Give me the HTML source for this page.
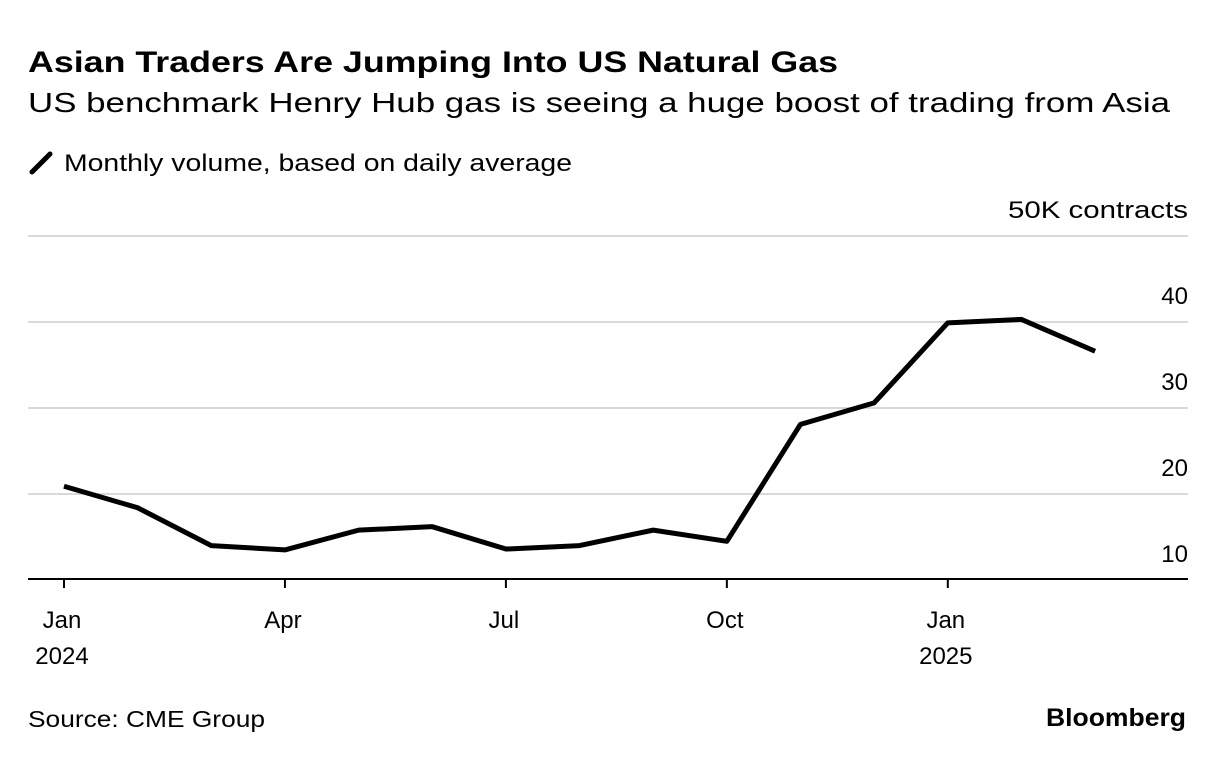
<!DOCTYPE html>
<html><head><meta charset="utf-8"><style>
body{margin:0;width:1223px;height:760px;background:#fff;font-family:"Liberation Sans",sans-serif;color:#000;overflow:hidden}
</style></head><body>
<svg width="1223" height="760">
<text x="28" y="72" font-size="30" font-weight="bold" textLength="810" lengthAdjust="spacingAndGlyphs">Asian Traders Are Jumping Into US Natural Gas</text>
<text x="28" y="112" font-size="28" textLength="1142" lengthAdjust="spacingAndGlyphs">US benchmark Henry Hub gas is seeing a huge boost of trading from Asia</text>
<line x1="32" y1="172" x2="50" y2="154" stroke="#000" stroke-width="5" stroke-linecap="round"/>
<text x="64" y="171" font-size="24" textLength="508" lengthAdjust="spacingAndGlyphs">Monthly volume, based on daily average</text>
<g id="grid"></g>
<g id="xax"></g>
<path id="line" fill="none" stroke="#000" stroke-width="5" stroke-linejoin="round"/>
<text x="28" y="727" font-size="23" textLength="237" lengthAdjust="spacingAndGlyphs">Source: CME Group</text>
<text x="1186" y="726" font-size="25" font-weight="bold" text-anchor="end" textLength="140" lengthAdjust="spacingAndGlyphs">Bloomberg</text>
</svg>
<script>
const months=["Jan 2024","Feb","Mar","Apr","May","Jun","Jul","Aug","Sep","Oct","Nov","Dec","Jan 2025","Feb","Mar"];
const volumes=[20.9,18.4,14.0,13.5,15.8,16.2,13.6,14.0,15.8,14.5,28.1,30.6,39.9,40.3,36.6];
const yTicks=[10,20,30,40,50];
const xLabels=[[0,"Jan","2024"],[3,"Apr",""],[6,"Jul",""],[9,"Oct",""],[12,"Jan","2025"]];
const NS="http://www.w3.org/2000/svg";
const x=i=>64+i*73.65;
const y=v=>580-(v-10)*8.6;
const g=document.getElementById('grid'),xa=document.getElementById('xax');
function mk(t,a,p){const e=document.createElementNS(NS,t);for(const k in a)e.setAttribute(k,a[k]);p.appendChild(e);return e;}
yTicks.forEach(v=>{
 if(v>10){const l=mk('line',{x1:28,x2:1188,y1:y(v),y2:y(v),stroke:'#d9d9d9','stroke-width':2},g);
 
 }
 const t=mk('text',{x:1188,y:y(v)-18,'font-size':24,'text-anchor':'end'},g);
 t.textContent=v===50?'50K contracts':v;
 if(v===50){t.setAttribute('textLength',180);t.setAttribute('lengthAdjust','spacingAndGlyphs');}
 
 
});
const b=mk('line',{x1:28,x2:1188,y1:579,y2:579,stroke:'#000','stroke-width':2},xa);


xLabels.forEach(([i,m,yr])=>{
 const tk=mk('line',{x1:x(i),x2:x(i),y1:579,y2:588,stroke:'#000','stroke-width':2},xa);
 
 
 const t=mk('text',{x:x(i)-2,y:628,'font-size':24,'text-anchor':'middle'},xa);
 t.textContent=m;
 
 
 if(yr){const t2=mk('text',{x:x(i)-2,y:664,'font-size':24,'text-anchor':'middle'},xa);
 t2.textContent=yr;
 
 }
});
document.getElementById('line').setAttribute('d',volumes.map((v,i)=>(i?'L':'M')+x(i)+','+y(v)).join(''));
</script>
</body></html>
